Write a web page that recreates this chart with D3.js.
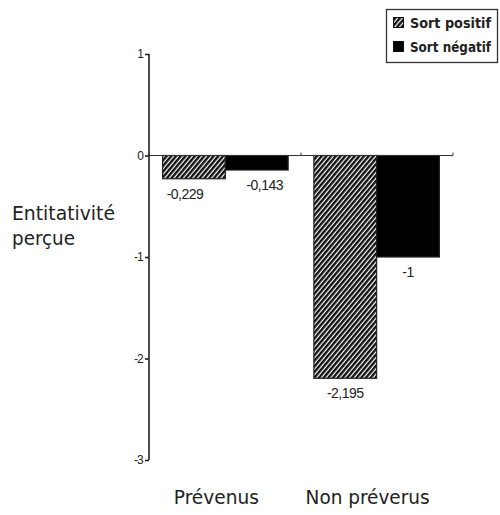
<!DOCTYPE html>
<html><head><meta charset="utf-8">
<script src="https://cdn.jsdelivr.net/npm/d3@7"></script>
<style>body{margin:0;background:#fff}</style>
</head><body>
<svg id="c" width="500" height="515"></svg>
<script>
const categories = ["Prévenus", "Non préverus"];
const seriesNames = ["Sort positif", "Sort négatif"];
const positif = [-0.229, -2.195];
const negatif = [-0.143, -1];
const labelsPositif = ["-0,229", "-2,195"];
const labelsNegatif = ["-0,143", "-1"];
const yTicks = [1, 0, -1, -2, -3];
const yTitle = ["Entitativité", "perçue"];

const svg = d3.select("#c");
const defs = svg.append("defs");
const pat = defs.append("pattern").attr("id","hatch").attr("patternUnits","userSpaceOnUse")
  .attr("width",3.6).attr("height",3.6).attr("patternTransform","rotate(40)");
pat.append("rect").attr("width",3.6).attr("height",3.6).attr("fill","#fff");
pat.append("rect").attr("width",2.4).attr("height",3.6).attr("fill","#111");

const y = d3.scaleLinear().domain([-3,1]).range([460,54]);
const x0 = d3.scaleBand().domain(categories).range([149,453]).paddingInner(0.17).paddingOuter(0.09);
const x1 = d3.scaleBand().domain(seriesNames).range([0,x0.bandwidth()]);

const data = categories.map((c,i)=>({c, vals:[
  {s:seriesNames[0], v:positif[i], l:labelsPositif[i]},
  {s:seriesNames[1], v:negatif[i], l:labelsNegatif[i]}]}));

const fontMain = "DejaVu Sans Condensed, DejaVu Sans";
function fitText(sel, w){ sel.attr("textLength", w).attr("lengthAdjust","spacingAndGlyphs"); return sel; }

const g = svg.append("g");
data.forEach((d,gi)=>{
  d.vals.forEach((v,si)=>{
    g.append("rect").attr("x",x0(d.c)+x1(v.s)).attr("width",x1.bandwidth())
      .attr("y",y(0)).attr("height",y(v.v)-y(0))
      .attr("fill", si===0 ? "url(#hatch)" : "#000")
      .attr("stroke","#222").attr("stroke-width",1.2);
    const spread = gi===0 ? (si===0?-9:8) : 0;
    g.append("text").attr("x",x0(d.c)+x1(v.s)+x1.bandwidth()/2 + spread)
      .attr("y",y(v.v)+20).attr("text-anchor","middle")
      .attr("font-family","Liberation Sans, Arial").attr("font-size",14)
      .attr("letter-spacing","-0.5").attr("fill","#222").text(v.l);
  });
});

// y axis
const yAxis = d3.axisLeft(y).tickValues(yTicks).tickSize(4).tickFormat(d=>String(d));
const ya = svg.append("g").attr("transform","translate(149,0)").call(yAxis);
ya.select(".domain").attr("stroke","#222").attr("stroke-width",1.6).attr("d","M0,54V460");
ya.selectAll(".tick line").attr("stroke","#222").attr("stroke-width",1.6);
ya.selectAll(".tick text").attr("font-family","Liberation Sans, Arial").attr("font-size",12)
  .attr("fill","#222").attr("x",-6).attr("letter-spacing","-0.8");

// x axis at zero
const xa = svg.append("g").attr("transform",`translate(0,${y(0)})`);
xa.append("line").attr("x1",149).attr("x2",453).attr("stroke","#333").attr("stroke-width",1.2);
const bounds = [149, (x0(categories[0])+x0.bandwidth()+x0(categories[1]))/2, 453];
bounds.forEach(b=>xa.append("line").attr("x1",b).attr("x2",b).attr("y1",-3).attr("y2",0).attr("stroke","#333"));

// category labels
const catWidths = [85, 124];
categories.forEach((c,i)=>{
  fitText(svg.append("text").attr("x",x0(c)+x0.bandwidth()/2 - 9).attr("y",504).attr("text-anchor","middle")
    .attr("font-family",fontMain).attr("font-size",20)
    .attr("fill","#222").text(c), catWidths[i]);
});

// y title
const titleWidths = [103, 63];
yTitle.forEach((t,i)=>{
  fitText(svg.append("text").attr("x",12).attr("y",220+i*25).attr("font-family",fontMain)
    .attr("font-size",20).attr("fill","#222").text(t), titleWidths[i]);
});

// legend
const lg = svg.append("g");
lg.append("rect").attr("x",386.5).attr("y",9.5).attr("width",111).attr("height",53)
  .attr("fill","#fff").attr("stroke","#333").attr("stroke-width",1.3);
seriesNames.forEach((s,i)=>{
  lg.append("rect").attr("x",393.5).attr("y",17.5+i*24).attr("width",10).attr("height",10)
    .attr("fill", i===0?"url(#hatch)":"#000").attr("stroke","#111");
  fitText(lg.append("text").attr("x",410).attr("y",28+i*24).attr("font-family",fontMain)
    .attr("font-size",14.5).attr("font-weight","bold").attr("fill","#222").text(s), 81);
});
</script>
</body></html>
